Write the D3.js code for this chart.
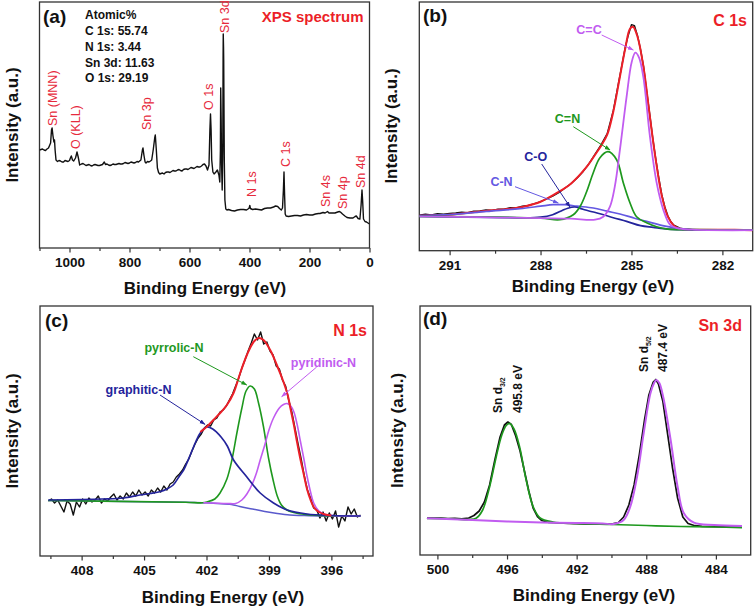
<!DOCTYPE html>
<html><head><meta charset="utf-8">
<script src="https://cdn.jsdelivr.net/npm/d3@7"></script>
<style>body{margin:0;background:#fff}svg{display:block}</style>
</head><body>
<svg id="chart" width="756" height="607"></svg>
<script>
// ---------------- DATA ----------------
// (a) survey spectrum [binding energy eV, intensity a.u.]
const surveyData = [[1100,98],[1095,98.5],[1090,99],[1085,98],[1080,97.5],[1075,99],[1070,100],[1063,105],[1060,118],[1058,120],[1055,112],[1052,106],[1050,108],[1048,98],[1045,88],[1040,86.5],[1035,87.5],[1030,87],[1025,86],[1020,86],[1015,87.5],[1010,87],[1005,86.5],[1000,87.5],[997,90],[994,92],[990,88],[986,87],[980,90],[975,96],[971,91],[966,83],[960,84],[955,84.5],[950,83.5],[945,82.5],[940,83],[935,83.5],[930,82.5],[925,82],[920,83],[915,83.5],[910,83],[905,82.5],[900,82.5],[895,83],[890,83.5],[884,86],[880,83.5],[875,84],[870,83],[865,82.5],[860,83],[855,84],[850,83.5],[845,83.5],[840,84],[835,84.5],[830,84],[825,84],[820,84.5],[815,85.5],[810,85],[805,84.5],[800,85],[795,86],[790,85.5],[785,85],[780,85.5],[775,86.5],[770,86],[762,88],[757,98],[755,100],[752,93],[748,86],[745,85],[740,86.5],[735,86],[730,87],[726,88],[721,98],[716,110],[714,113],[711,100],[707,80],[703,75.5],[699,74],[695,74.5],[690,75],[685,74],[680,75.5],[675,76],[670,76],[665,75.5],[660,76.5],[655,77.5],[650,77],[645,77],[640,78],[635,78.5],[630,77.5],[625,77],[620,78.5],[615,79],[610,79],[605,78.5],[600,79.5],[595,80.5],[590,80],[585,79.5],[580,80.5],[575,81.5],[570,81],[565,81],[560,82],[555,83.5],[550,84],[545,82],[540,78],[535,83],[532,118],[530,134],[528,118],[526,88],[522,76],[518,74],[512,76],[507,78],[502,73],[499,66],[497,98],[496,160],[495.5,150],[494.5,128],[493,83],[491,58],[489,98],[488,190],[487.5,214],[486.5,200],[486,188],[484,88],[482,48],[479,39],[475,38],[470,38.5],[460,37.5],[450,37],[440,38],[430,38.5],[420,38.5],[410,38],[405,39],[401,40],[399,42.5],[397,39.5],[390,38.5],[380,39],[370,38.5],[360,38],[350,39.5],[340,40],[330,40],[320,41],[313,42],[306,41.5],[300,39.5],[294,38],[290,40],[287,58],[285,76],[283,53],[281,34],[278,32],[270,31.5],[260,32],[250,32.5],[240,32.5],[230,32],[220,33],[210,33.5],[200,33],[190,33],[180,34],[170,34.5],[165,34.5],[155,35.5],[148,35],[140,36.5],[135,35],[125,35],[115,35],[106,36],[100,36.5],[97,36],[90,34],[82,32],[75,30.5],[65,30],[55,30],[48,31.5],[44,32],[38,29.5],[32,29],[28,43],[25,58],[23,48],[20,29],[15,26.5],[10,26],[5,25],[0,24]];
const surveyPeaks = [["Sn (MNN)",1058,122],["O (KLL)",975,99],["Sn 3p",714,118],["O 1s",530,138],["Sn 3d",487.5,215],["N 1s",399,51],["C 1s",285,81],["Sn 4s",140,41],["Sn 4p",97,39],["Sn 4d",25,60]];
const atomicLines = ["Atomic%","C 1s: 55.74","N 1s: 3.44","Sn 3d: 11.63","O 1s: 29.19"];
const ticksA = [1000,800,600,400,200,0], minorA = [1100,900,700,500,300,100];

// (b) C 1s
const c1sData = [[292,35.5],[291.8,36.5],[291.6,35.8],[291.4,37],[291.2,36.4],[291,37.2],[290.8,37.8],[290.6,38.6],[290.4,38],[290.2,39.6],[290,39.8],[289.8,40.7],[289.6,40.2],[289.4,41.6],[289.2,41.5],[289,43],[288.8,42.8],[288.6,44.5],[288.4,45.2],[288.2,47],[288,49],[287.8,51.8],[287.6,54.5],[287.4,58],[287.2,62.5],[287,67],[286.8,72.5],[286.6,79],[286.4,87],[286.2,96.5],[286,106],[285.8,117],[285.6,140],[285.4,172],[285.2,204],[285.1,216],[285,226],[284.9,225],[284.8,215],[284.7,201],[284.6,184],[284.5,160],[284.4,137],[284.3,113],[284.2,92],[284.1,73],[284,56],[283.9,44],[283.8,35],[283.7,29],[283.6,25.5],[283.4,22.5],[283.2,21.5],[283,21],[282.5,20.8],[282,21],[281.5,20.6],[281,20.5]];
const c1sEnvelope = [[292,35],[291,36],[290,39.3],[289,42],[288.5,44.5],[288,49],[287.5,57],[287,67],[286.5,83],[286.2,96],[286,105],[285.8,116],[285.6,139],[285.4,171],[285.2,203],[285.05,222],[284.95,224],[284.8,214],[284.6,183],[284.4,136],[284.2,91],[284,55],[283.8,34],[283.6,25],[283.4,22],[283,21],[282,21],[281,20.5]];
const c1sCC = [[292,34.3],[290,33.5],[288,32.5],[287,32],[286.2,31],[285.93,34],[285.71,44],[285.55,64],[285.38,101],[285.16,154],[284.99,189],[284.87,198],[284.75,193],[284.61,174],[284.39,114],[284.17,68],[283.95,41],[283.73,26],[283.5,22.5],[283,21],[281,20.5]];
const c1sCN2 = [[292,34.3],[288,32.5],[287.36,31],[286.92,36],[286.7,44],[286.48,59],[286.26,78],[286.04,93],[285.77,99],[285.49,91],[285.27,68],[285.05,48],[284.83,34],[284.5,28],[284.17,24],[283.8,21.5],[283,21],[281,20.5]];
const c1sCO = [[292,34.3],[289,33],[288.5,32.7],[288,33.5],[287.6,36],[287.3,40],[287.1,42.5],[286.87,43.7],[286.6,41.5],[286.3,39],[286.04,37],[285.6,33],[285.16,29.3],[284.7,25],[284.28,23.3],[283.8,21.5],[283.4,21],[281,20.5]];
const c1sCN1 = [[292,35],[291,36],[289.78,39.3],[288.68,42],[288,44.5],[287.58,46],[287.2,46],[286.8,44.5],[286.26,42.7],[285.8,39.5],[285.38,36.7],[284.9,32.5],[284.5,29.3],[283.84,24.3],[283.4,22],[283,21],[281,20.5]];
const ticksB = [291,288,285,282], minorB = [289.5,286.5,283.5];

// (c) N 1s
const n1sData = [[409.6,55],[409.45,57],[409.3,53],[409.15,56],[409,50],[408.85,44],[408.7,55],[408.55,52],[408.4,41],[408.25,54],[408.1,49],[407.95,57],[407.8,52],[407.65,58],[407.5,54],[407.35,56],[407.2,60],[407.05,53],[406.9,57],[406.75,55],[406.6,59],[406.45,62],[406.3,56],[406.15,60],[406,57],[405.85,63],[405.7,59],[405.55,64],[405.4,60],[405.25,66],[405.1,61],[404.95,64],[404.8,60],[404.65,66],[404.5,63],[404.35,68],[404.2,64],[404.05,70],[403.9,66],[403.75,72],[403.6,74],[403.45,79],[403.3,82],[403.15,86],[403,92],[402.85,97],[402.7,105],[402.55,112],[402.4,118],[402.25,122],[402.1,128],[401.95,131],[401.8,130],[401.65,136],[401.5,138],[401.35,144],[401.2,146],[401.05,150],[400.9,156],[400.75,162],[400.6,170],[400.45,178],[400.3,188],[400.15,196],[400,205],[399.85,213],[399.7,222],[399.55,216],[399.4,224],[399.25,212],[399.1,214],[398.95,205],[398.8,201],[398.65,190],[398.5,187],[398.35,176],[398.2,170],[398.05,156],[397.9,144],[397.75,128],[397.6,112],[397.45,97],[397.3,80],[397.15,66],[397,58],[396.85,48],[396.7,46],[396.55,38],[396.4,44],[396.25,35],[396.1,43],[395.95,37],[395.8,45],[395.65,29],[395.5,40],[395.35,35],[395.2,49],[395.05,42],[394.9,47],[394.75,39],[394.6,41]];
const n1sBackground = [[409.6,55.5],[406,54.5],[403,53.7],[402.2,53.2],[401.5,52.5],[400.8,51.5],[400.4,49.5],[399.8,47],[399.2,44.5],[398.6,42.5],[398,41],[397.4,40.5],[396.5,40],[394.6,40]];
const n1sGraphitic = [[409.6,56],[407,57],[406,58],[405.2,61],[404.7,62.5],[404.2,64.5],[403.9,67],[403.6,71],[403.3,80],[403.1,86],[402.8,100],[402.5,115],[402.3,123],[402,129],[401.7,127],[401.3,119],[401,110],[400.7,96],[400.06,79],[399.42,63],[398.78,53],[398.13,46],[397.17,42],[396,40.5],[394.6,40]];
const n1sPyrrolic = [[409.6,55.5],[403,53.7],[402.2,53.2],[401.98,54],[401.6,57],[401.35,63],[401.02,77],[400.78,96],[400.54,123],[400.3,148],[400.1,165],[399.9,170],[399.7,167],[399.5,153],[399.26,129],[399.02,98],[398.8,76],[398.6,60],[398.4,51],[398.13,46],[397.65,42.7],[397,41],[396,40],[394.6,40]];
const n1sPyridinic = [[402.15,53.3],[401,52.5],[400.6,52.5],[400.3,56],[400.06,62],[399.8,72],[399.6,83],[399.42,96],[399.2,111],[399,126],[398.78,138],[398.5,148],[398.3,151.5],[398.13,152.5],[397.95,150],[397.8,144],[397.65,132],[397.5,116],[397.33,98],[397.17,80],[397,64],[396.85,53],[396.6,45],[396.3,41.5],[396,40.5],[394.6,40]];
const n1sEnvelope = [[402.3,124],[402,129],[401.67,136],[401.3,144],[401.02,151],[400.7,163],[400.38,183],[400.06,201],[399.74,214],[399.5,218],[399.26,216],[398.94,206],[398.62,191],[398.3,174],[398.1,161],[397.95,146],[397.8,131],[397.65,114],[397.5,98],[397.33,82],[397.17,67],[397,56],[396.85,49],[396.6,44],[396.3,41.5],[396,40.5]];
const ticksC = [408,405,402,399,396], minorC = [409.5,406.5,403.5,400.5,397.5,394.5];

// (d) Sn 3d
const sn3dData = [[500.6,37.2],[500.2,36.8],[499.8,37],[499.4,36.4],[499,36.6],[498.6,36.2],[498.2,37],[497.9,39.5],[497.6,44],[497.3,53],[497,70],[496.7,95],[496.4,118],[496.15,130],[495.95,133],[495.75,130.5],[495.5,119],[495.25,104],[495,84],[494.75,64],[494.5,47],[494.25,38.5],[494,34.5],[493.6,32.5],[493,32],[492.5,31.6],[492,31.3],[491.5,31.2],[491,31],[490.5,30.8],[490,31],[489.6,32.5],[489.3,38],[489,50],[488.7,70],[488.4,100],[488.1,135],[487.85,160],[487.6,173],[487.45,175.5],[487.3,171],[487.05,154],[486.8,124],[486.5,88],[486.2,57],[485.9,38],[485.6,31.5],[485.2,29.3],[484.8,28.6],[484,28.3],[483.2,28],[482.5,27.8]];
const sn3d32Fit = [[500.6,36.7],[499,36],[498.2,35.5],[497.78,36.7],[497.4,45],[497,68.3],[496.62,98.3],[496.3,120],[496.05,129.5],[495.86,131.7],[495.6,126],[495.28,108.3],[494.9,75],[494.5,48.3],[494.1,37],[493.35,33],[492,31.5],[490,30.5],[488,29.5],[486,28.5],[484,28],[482.5,27.3]];
const sn3d52Fit = [[500.6,36.7],[498,35],[496,33.5],[494,32.5],[492,32],[490.5,31.5],[489.88,31],[489.3,35],[488.92,48.3],[488.53,78.3],[488.15,121.7],[487.76,161.7],[487.55,172],[487.42,175],[487.25,172],[487.03,158.3],[486.6,115],[486.2,68.3],[485.84,41.7],[485.26,32.3],[484.1,30],[482.5,29]];
const ticksD = [500,496,492,488,484], minorD = [498,494,490,486];

// ---------------- DRAWING ----------------
const FONT = '"Liberation Sans", Arial, Helvetica, sans-serif';
const RED = "#ec1f28", LRED = "#e62a3c", VIOLET = "#c15cf0", GREEN = "#1e981e", NAVY = "#24249c", SLATE = "#6458e2", BG = "#5a5acc";
const svg = d3.select("#chart").style("font-family", FONT);
const defs = svg.append("defs");
function marker(id, color) {
  defs.append("marker").attr("id", id).attr("viewBox", "0 0 10 10").attr("refX", 9).attr("refY", 5)
    .attr("markerWidth", 6).attr("markerHeight", 6).attr("markerUnits", "userSpaceOnUse").attr("orient", "auto")
    .append("path").attr("d", "M0,1.5 L10,5 L0,8.5 z").attr("fill", color);
}
[["mViolet", VIOLET], ["mGreen", GREEN], ["mNavy", NAVY], ["mSlate", SLATE]].forEach(d => marker(d[0], d[1]));

function panel(o) {
  const g = svg.append("g");
  const x = d3.scaleLinear().domain(o.xDomain).range([o.left, o.right]);
  const y = d3.scaleLinear().domain(o.yDomain).range([o.bottom, o.top]);
  const cid = "clip" + o.id;
  defs.append("clipPath").attr("id", cid).append("rect")
    .attr("x", o.left).attr("y", o.top).attr("width", o.right - o.left).attr("height", o.bottom - o.top);
  g.append("g").attr("transform", `translate(0,${o.bottom})`)
    .call(d3.axisBottom(x).tickValues(o.minor).tickSize(3).tickFormat(""))
    .call(a => a.select(".domain").remove())
    .call(a => a.selectAll("line").attr("stroke", "#333").attr("stroke-width", 1.2));
  g.append("g").attr("transform", `translate(0,${o.bottom})`)
    .call(d3.axisBottom(x).tickValues(o.major).tickSize(4.5).tickPadding(5).tickFormat(d3.format("d")))
    .call(a => a.select(".domain").remove())
    .call(a => a.selectAll("line").attr("stroke", "#333").attr("stroke-width", 1.2))
    .call(a => a.selectAll("text").attr("font-size", 13.5).attr("font-weight", "bold").attr("font-family", FONT).attr("fill", "#111"));
  g.append("rect").attr("x", o.left).attr("y", o.top).attr("width", o.right - o.left).attr("height", o.bottom - o.top)
    .attr("fill", "none").attr("stroke", "#333").attr("stroke-width", 1.3);
  g.append("text").attr("x", o.xTitle[0]).attr("y", o.xTitle[1]).attr("dy", "0.35em").attr("text-anchor", "middle")
    .attr("font-size", 17).attr("font-weight", "bold").attr("fill", "#111").text("Binding Energy (eV)");
  g.append("text").attr("transform", `translate(${o.yTitle[0]},${o.yTitle[1]}) rotate(-90)`).attr("dy", "0.35em")
    .attr("text-anchor", "middle").attr("font-size", 17).attr("font-weight", "bold").attr("fill", "#111").text("Intensity (a.u.)");
  g.append("text").attr("x", o.tag[0]).attr("y", o.tag[1]).attr("dy", "0.35em").attr("font-size", 19)
    .attr("font-weight", "bold").attr("fill", "#111").text(o.tagText);
  g.append("text").attr("x", o.name[0]).attr("y", o.name[1]).attr("dy", "0.35em").attr("text-anchor", "end")
    .attr("font-size", o.nameSize).attr("font-weight", "bold").attr("fill", RED).text(o.nameText);
  const plot = g.append("g").attr("clip-path", `url(#${cid})`);
  function line(data, color, width, smooth) {
    plot.append("path").datum(data).attr("fill", "none").attr("stroke", color).attr("stroke-width", width)
      .attr("stroke-linejoin", "round")
      .attr("d", d3.line().x(d => x(d[0])).y(d => y(d[1])).curve(smooth ? d3.curveCatmullRom.alpha(0.5) : d3.curveLinear));
  }
  function label(txt, cx, cy, color, anchorX, anchorY, tipX, tipY, mk) {
    g.append("text").attr("x", cx).attr("y", cy).attr("dy", "0.35em").attr("text-anchor", "middle")
      .attr("font-size", 12.5).attr("font-weight", "bold").attr("fill", color).text(txt);
    g.append("line").attr("x1", anchorX).attr("y1", anchorY).attr("x2", tipX).attr("y2", tipY)
      .attr("stroke", color).attr("stroke-width", 1).attr("marker-end", `url(#${mk})`);
  }
  return { g, x, y, line, label };
}

// ---- (a)
const A = panel({ id: "a", xDomain: [1100, 0], yDomain: [0, 246], left: 39.5, right: 369.5, top: 2, bottom: 248,
  major: ticksA, minor: minorA, xTitle: [205, 288.5], yTitle: [12, 125], tag: [43, 16.5], tagText: "(a)",
  name: [363.5, 16.5], nameSize: 15, nameText: "XPS spectrum" });
A.line(surveyData, "#111", 1.4, false);
const labelPos = { "Sn (MNN)": [53, 126], "O (KLL)": [75.7, 149], "Sn 3p": [146.3, 130], "O 1s": [209, 110],
  "Sn 3d": [225, 33], "N 1s": [251.7, 197], "C 1s": [286, 167], "Sn 4s": [326, 207], "Sn 4p": [342.7, 209], "Sn 4d": [360.7, 188] };
surveyPeaks.forEach(p => {
  const pos = labelPos[p[0]];
  A.g.append("text").attr("transform", `translate(${pos[0]},${pos[1]}) rotate(-90)`).attr("dy", "0.35em")
    .attr("font-size", 12.5).attr("fill", LRED).text(p[0]);
});
atomicLines.forEach((t, i) => {
  A.g.append("text").attr("x", 85).attr("y", [15, 31.2, 46.8, 62.4, 78.2][i]).attr("dy", "0.35em")
    .attr("font-size", 12).attr("font-weight", "bold").attr("fill", "#111").text(t);
});

// ---- (b)
const B = panel({ id: "b", xDomain: [292, 281], yDomain: [0, 248.7], left: 419.3, right: 752.7, top: 2, bottom: 250.7,
  major: ticksB, minor: minorB, xTitle: [593, 286.5], yTitle: [391, 126], tag: [423, 15.5], tagText: "(b)",
  name: [747, 20], nameSize: 16, nameText: "C 1s" });
B.line(c1sData, "#111", 1.4, false);
B.line(c1sEnvelope, RED, 2, true);
B.line(c1sCN1, SLATE, 1.7, true);
B.line(c1sCO, NAVY, 1.7, true);
B.line(c1sCN2, GREEN, 1.7, true);
B.line(c1sCC, VIOLET, 1.8, true);
B.label("C=C", 589, 30, VIOLET, 601.7, 35, 633.3, 50, "mViolet");
B.label("C=N", 567.5, 118.3, GREEN, 573.3, 126.7, 610, 150, "mGreen");
B.label("C-O", 535.8, 156.7, NAVY, 541.7, 164, 570, 207, "mNavy");
B.label("C-N", 501.5, 181.7, SLATE, 515, 186.7, 558.3, 203, "mSlate");

// ---- (c)
const C = panel({ id: "c", xDomain: [410, 394], yDomain: [0, 250], left: 40, right: 373, top: 306, bottom: 556,
  major: ticksC, minor: minorC, xTitle: [223, 597], yTitle: [12, 431], tag: [45, 320], tagText: "(c)",
  name: [367, 330], nameSize: 16, nameText: "N 1s" });
C.line(n1sData, "#111", 1.4, false);
C.line(n1sBackground, BG, 1.5, true);
C.line(n1sPyrrolic, GREEN, 1.6, true);
C.line(n1sPyridinic, VIOLET, 1.6, true);
C.line(n1sGraphitic, NAVY, 1.7, true);
C.line(n1sEnvelope, RED, 2, true);
C.label("pyrrolic-N", 174, 348, GREEN, 193.3, 356.7, 246.7, 385, "mGreen");
C.label("pyridinic-N", 323.5, 363, VIOLET, 316.7, 367, 281.7, 396.7, "mViolet");
C.label("graphitic-N", 138.5, 390, NAVY, 160, 395, 205, 424.3, "mNavy");

// ---- (d)
const D = panel({ id: "d", xDomain: [501, 482], yDomain: [0, 249], left: 420, right: 750.7, top: 306, bottom: 555,
  major: ticksD, minor: minorD, xTitle: [594, 595], yTitle: [397.5, 430.5], tag: [423, 318.5], tagText: "(d)",
  name: [742, 325], nameSize: 16, nameText: "Sn 3d" });
D.line(sn3dData, "#111", 1.7, false);
D.line(sn3d32Fit, GREEN, 1.7, true);
D.line(sn3d52Fit, VIOLET, 2, true);
function peakLabel(x1, x2, yb, sub, ev) {
  const t = D.g.append("text").attr("transform", `translate(${x1},${yb}) rotate(-90)`).attr("dy", "0.35em")
    .attr("font-size", 12).attr("font-weight", "bold").attr("fill", "#111");
  t.append("tspan").text("Sn d");
  t.append("tspan").attr("dy", 3).attr("font-size", 7).text(sub);
  D.g.append("text").attr("transform", `translate(${x2},${yb}) rotate(-90)`).attr("dy", "0.35em")
    .attr("font-size", 12).attr("font-weight", "bold").attr("fill", "#111").text(ev);
}
peakLabel(498, 518, 413, "3/2", "495.8 eV");
peakLabel(644, 663, 372, "5/2", "487.4 eV");
</script>
</body></html>
